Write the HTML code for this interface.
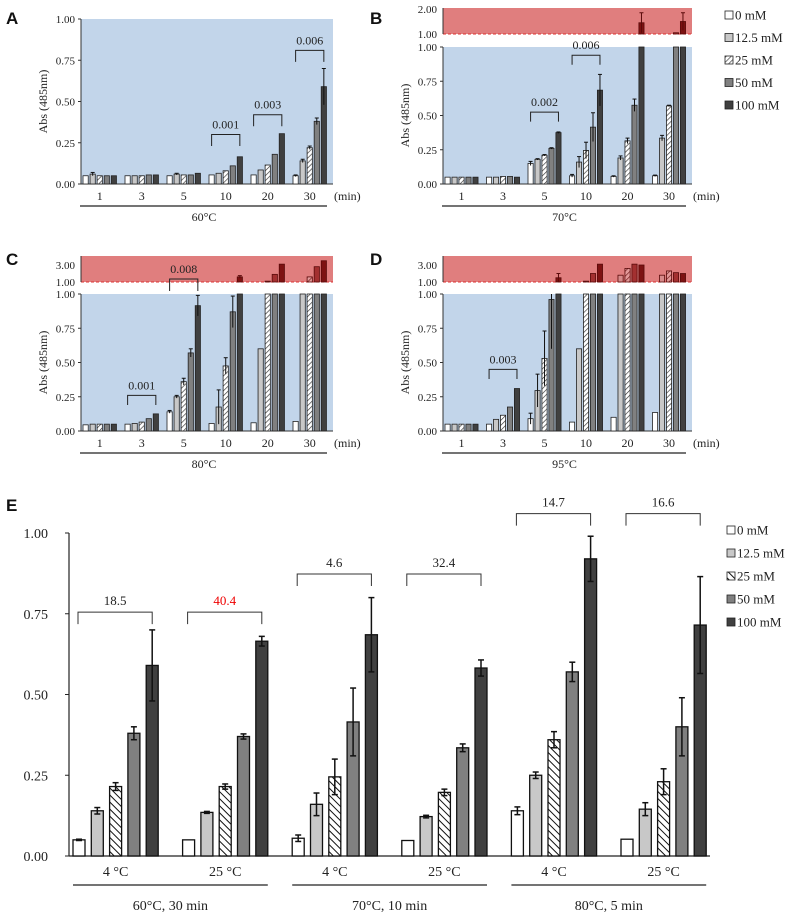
<!DOCTYPE html>
<html><head><meta charset="utf-8"><style>
html,body{margin:0;padding:0;background:#fff;}
svg{display:block;font-family:"Liberation Serif",serif;}
</style></head><body>
<svg id="fig" width="791" height="916" viewBox="0 0 791 916" xmlns="http://www.w3.org/2000/svg">
<defs>
<pattern id="hatchA" width="3.5" height="3.5" patternUnits="userSpaceOnUse" patternTransform="rotate(45)"><rect width="3.5" height="3.5" fill="#fff"/><line x1="0" y1="0" x2="0" y2="3.5" stroke="#333" stroke-width="1.3"/></pattern>
<pattern id="hatchR" width="3.5" height="3.5" patternUnits="userSpaceOnUse" patternTransform="rotate(45)"><rect width="3.5" height="3.5" fill="#e39a9a"/><line x1="0" y1="0" x2="0" y2="3.5" stroke="#6a0f0f" stroke-width="1.3"/></pattern>
<pattern id="hatchE" width="5" height="5" patternUnits="userSpaceOnUse" patternTransform="rotate(-45)"><rect width="5" height="5" fill="#fff"/><line x1="0" y1="0" x2="0" y2="5" stroke="#111" stroke-width="2"/></pattern>
</defs>
<g id="root"></g>
</svg>
<script>
const timeCats = ['1','3','5','10','20','30'];
const seriesLabels = ['0  mM','12.5  mM','25  mM','50  mM','100  mM'];
const aVals = [[.05,.06,.05,.05,.05],[.05,.05,.05,.055,.055],[.05,.06,.055,.055,.065],[.055,.065,.08,.11,.165],[.055,.085,.115,.18,.305],[.05,.14,.22,.38,.59]];
const aErrs = [[0,.01,0,0,0],[0,0,0,0,0],[0,.005,0,0,0],[0,0,0,0,0],[0,0,0,0,0],[.005,.01,.01,.02,.11]];
const bVals = [[.05,.05,.05,.05,.05],[.05,.05,.055,.055,.05],[.15,.18,.21,.26,.375],[.06,.16,.245,.415,.685],[.055,.19,.315,.575,1.45],[.06,.335,.57,1.05,1.5]];
const bErrs = [[0,0,0,0,0],[0,0,0,0,0],[.015,.005,.005,.005,.005],[.01,.04,.06,.105,.115],[.005,.015,.02,.045,.4],[.005,.02,.005,0,.35]];
const cVals = [[.045,.05,.05,.05,.05],[.05,.055,.065,.09,.125],[.14,.25,.36,.57,.915],[.055,.175,.475,.87,1.6],[.06,.6,1.1,1.9,3.1],[.07,1.0,1.6,2.8,3.5]];
const cErrs = [[0,0,0,0,0],[0,0,0,0,0],[.01,.01,.025,.03,.075],[0,.125,.06,.115,.15],[0,0,0,0,0],[0,0,0,0,0]];
const dVals = [[.05,.05,.05,.05,.05],[.05,.085,.115,.175,.31],[.09,.295,.53,.96,1.5],[.065,.6,1.1,2.0,3.1],[.1,1.8,2.6,3.1,3.0],[.135,1.8,2.3,2.1,2.0]];
const dErrs = [[0,0,0,0,0],[0,0,0,0,0],[.04,.12,.2,.36,.5],[0,0,0,0,0],[0,0,0,0,0],[0,0,0,0,0]];
const eCats = ['4 °C','25 °C','4 °C','25 °C','4 °C','25 °C'];
const eConds = ['60°C, 30 min','70°C, 10 min','80°C, 5 min'];
const eVals = [[.05,.14,.215,.38,.59],[.05,.135,.215,.37,.665],[.055,.16,.245,.415,.685],[.048,.122,.197,.335,.582],[.14,.25,.36,.57,.92],[.052,.145,.23,.40,.715]];
const eErrs = [[.002,.01,.012,.02,.11],[0,.003,.008,.008,.015],[.01,.035,.055,.105,.115],[0,.004,.01,.012,.025],[.012,.01,.025,.03,.07],[0,.02,.04,.09,.15]];
const eBrackets = [[0,.755,'18.5'],[1,.755,'40.4'],[2,.873,'4.6'],[3,.873,'32.4'],[4,1.06,'14.7'],[5,1.06,'16.6']];
const yTicks = [0,.25,.5,.75,1];

const NS='http://www.w3.org/2000/svg';
const root=document.getElementById('root');
function el(tag,attrs,parent,text){const e=document.createElementNS(NS,tag);for(const k in attrs)e.setAttribute(k,attrs[k]);if(text!==undefined)e.textContent=text;(parent||root).appendChild(e);return e;}
const fills=['#ffffff','#c8c8c8','url(#hatchA)','#808080','#404040'];
const fillsR=['#f0b8b8','#d78a8a','url(#hatchR)','#a33030','#7d1212'];
const fillsE=['#ffffff','#c8c8c8','url(#hatchE)','#808080','#404040'];

function panel(p){
  const g=el('g',{});
  
  
  const yB=v=>p.yBot-(v)*(p.yBot-p.yTop);
  const yR=v=>p.redBot-(v-1)*p.redScale;
  const bg=el('rect',{x:p.x0,y:p.yTop,width:p.x1-p.x0,height:p.yBot-p.yTop,fill:'#c2d5ea'},g);
  
  
  el('line',{x1:p.x0,y1:p.yTop,x2:p.x0,y2:p.yBot,stroke:'#333','stroke-width':1},g);
  el('line',{x1:p.x0,y1:p.yBot,x2:p.x1,y2:p.yBot,stroke:'#333','stroke-width':1},g);
  yTicks.forEach(t=>{
    const tl=el('text',{x:p.x0-6,y:yB(t)+4,'font-size':11,'text-anchor':'end',fill:'#222'},g,t.toFixed(2));
    
    
    el('line',{x1:p.x0-3,y1:yB(t),x2:p.x0,y2:yB(t),stroke:'#333'},g);
  });
  const yt=el('text',{x:0,y:0,'font-size':12,'text-anchor':'middle',fill:'#222',transform:`translate(${p.x0-34},${(p.yTop+p.yBot)/2}) rotate(-90)`},g,'Abs (485nm)');
  
  
  let ro=null;
  if(p.redTop!==undefined){
    ro=el('rect',{x:p.x0,y:p.redTop,width:p.x1-p.x0,height:p.redBot-p.redTop,fill:'#e07e7e'},g);
    
    
    el('line',{x1:p.x0,y1:p.redBot,x2:p.x1,y2:p.redBot,stroke:'#d33','stroke-width':1,'stroke-dasharray':'3,2'},g);
    el('line',{x1:p.x0,y1:p.redTop,x2:p.x0,y2:p.redBot,stroke:'#333'},g);
    p.redTicks.forEach(t=>{
      const tl=el('text',{x:p.x0-6,y:yR(t)+4,'font-size':11,'text-anchor':'end',fill:'#222'},g,t.toFixed(2));
      
      
    });
  }
  const gp=(p.x1-p.x0)/6, bp=gp*0.168, bw=bp*0.74;
  p.vals.forEach((grp,gi)=>{
    const gs=p.x0+gi*gp+2;
    grp.forEach((v,si)=>{
      const x=gs+si*bp;
      const vb=Math.min(v,1);
      const r=el('rect',{x:x,y:yB(vb),width:bw,height:p.yBot-yB(vb),fill:fills[si],stroke:'#222','stroke-width':0.8},g);
      
      
      const e=p.errs[gi][si];
      if(e>0&&v<=1){
        const top=Math.min(v+e,1);
        el('line',{x1:x+bw/2,y1:yB(top),x2:x+bw/2,y2:yB(Math.max(v-e,0)),stroke:'#111','stroke-width':1},g);
        if(v+e<=1) el('line',{x1:x+bw/2-2,y1:yB(top),x2:x+bw/2+2,y2:yB(top),stroke:'#111','stroke-width':1},g);
      }
      if(v>1&&p.redTop!==undefined){
        const vr=Math.min(v,p.redMax);
        const rr=el('rect',{x:x,y:yR(vr),width:bw,height:p.redBot-yR(vr),fill:fillsR[si],stroke:'#5a0a0a','stroke-width':0.8},g);
        
        
        if(e>0){
          const top=Math.min(v+e,p.redMax);
          el('line',{x1:x+bw/2,y1:yR(top),x2:x+bw/2,y2:yR(Math.max(v-e,1)),stroke:'#5a0a0a','stroke-width':1},g);
          el('line',{x1:x+bw/2-2,y1:yR(top),x2:x+bw/2+2,y2:yR(top),stroke:'#5a0a0a','stroke-width':1},g);
        }
      }
    });
    const cl=el('text',{x:gs+2*bp+bw/2,y:p.yBot+16,'font-size':12,'text-anchor':'middle',fill:'#222'},g,timeCats[gi]);
    
    
  });
  (p.brackets||[]).forEach(b=>{
    const gs=p.x0+b[0]*gp+2, xa=gs+bw/2, xb=gs+4*bp+bw/2;
    let yt2, yl;
    if(b[3]==='red'){yt2=yR(b[1]);yl=yt2+12;} else {yt2=yB(b[1]);yl=yB(b[1]-0.07);}
    const br=el('path',{d:`M${xa},${yl}V${yt2}H${xb}V${yl}`,fill:'none',stroke:'#222','stroke-width':1},g);
    
    
    const bl=el('text',{x:(xa+xb)/2,y:yt2-6,'font-size':12,'text-anchor':'middle',fill:'#222'},g,b[2]);
    
    
  });
  const mn=el('text',{x:p.x1+1,y:p.yBot+16,'font-size':12,fill:'#222'},g,'(min)');
  
  
  el('line',{x1:p.x0-1,y1:p.yBot+22,x2:p.x1-6,y2:p.yBot+22,stroke:'#222','stroke-width':1.2},g);
  const tp=el('text',{x:(p.x0+p.x1)/2-3,y:p.yBot+37,'font-size':12,'text-anchor':'middle',fill:'#222'},g,p.temp);
  
  
  const lt=el('text',{x:p.lx,y:p.ly,'font-size':17,'font-weight':'bold','font-family':'Liberation Sans, sans-serif',fill:'#111'},g,p.letter);
  
  
}

panel({name:'panel-a',letter:'A',lx:6,ly:24,x0:81,x1:333,yTop:19,yBot:184,vals:aVals,errs:aErrs,temp:'60°C',
  brackets:[[3,.30,'0.001'],[4,.42,'0.003'],[5,.81,'0.006']]});
panel({name:'panel-b',letter:'B',lx:370,ly:24,x0:443,x1:692,yTop:47,yBot:184,redTop:8,redBot:34,redScale:25,redMax:2.05,redTicks:[1,2],vals:bVals,errs:bErrs,temp:'70°C',
  brackets:[[2,.525,'0.002'],[3,.94,'0.006']]});
panel({name:'panel-c',letter:'C',lx:6,ly:265,x0:81,x1:333,yTop:294,yBot:431,redTop:256,redBot:282,redScale:8.5,redMax:4.0,redTicks:[1,3],vals:cVals,errs:cErrs,temp:'80°C',
  brackets:[[1,.26,'0.001'],[2,1.35,'0.008','red']]});
panel({name:'panel-d',letter:'D',lx:370,ly:265,x0:443,x1:692,yTop:294,yBot:431,redTop:256,redBot:282,redScale:8.5,redMax:4.0,redTicks:[1,3],vals:dVals,errs:dErrs,temp:'95°C',
  brackets:[[1,.45,'0.003']]});

function legend(x,y0,dy,fs,sq,fl){
  seriesLabels.forEach((s,i)=>{
    const y=y0+i*dy;
    const r=el('rect',{x:x,y:y-sq/2,width:sq,height:sq,fill:fl[i],stroke:'#222','stroke-width':0.8});
    
    
    const t=el('text',{x:x+sq+2,y:y+fs*0.35,'font-size':fs,fill:'#222','xml:space':'preserve'},root,s);
    
    
  });
}
legend(725,15,22.5,13,8,fills);
legend(727,530,23,13,8,fillsE);

(function(){
  const g=el('g',{});
  
  
  const x0=69,x1=710,yTop=533,yBot=856;
  const y=v=>yBot-v*(yBot-yTop);
  const gp=109.6,bp=18.3,bw=12,gstart=73;
  el('line',{x1:x0,y1:yTop,x2:x0,y2:yBot,stroke:'#222','stroke-width':1.2},g);
  el('line',{x1:x0,y1:yBot,x2:x1,y2:yBot,stroke:'#222','stroke-width':1.2},g);
  yTicks.forEach(t=>{
    el('line',{x1:x0-4,y1:y(t),x2:x0,y2:y(t),stroke:'#222'},g);
    const tl=el('text',{x:x0-21,y:y(t)+5,'font-size':14,'text-anchor':'end',fill:'#222'},g,t.toFixed(2));
    
    
  });
  eVals.forEach((grp,gi)=>{
    const gs=gstart+gi*gp;
    grp.forEach((v,si)=>{
      const x=gs+si*bp;
      const r=el('rect',{x:x,y:y(v),width:bw,height:yBot-y(v),fill:fillsE[si],stroke:'#111','stroke-width':1.3},g);
      
      
      const e=eErrs[gi][si];
      if(e>0){
        el('line',{x1:x+bw/2,y1:y(v+e),x2:x+bw/2,y2:y(v-e),stroke:'#111','stroke-width':1.5},g);
        el('line',{x1:x+bw/2-3,y1:y(v+e),x2:x+bw/2+3,y2:y(v+e),stroke:'#111','stroke-width':1.5},g);
        el('line',{x1:x+bw/2-3,y1:y(v-e),x2:x+bw/2+3,y2:y(v-e),stroke:'#111','stroke-width':1.5},g);
      }
    });
    const cl=el('text',{x:gs+2*bp+bw/2,y:yBot+20,'font-size':14,'text-anchor':'middle',fill:'#222'},g,eCats[gi]);
    
    
  });
  eBrackets.forEach(b=>{
    const gs=gstart+b[0]*gp, xa=gs+bw/2-1, xb=gs+4*bp+bw/2;
    const yt=y(b[1]), yl=y(b[1]-0.037);
    const br=el('path',{d:`M${xa},${yl}V${yt}H${xb}V${yl}`,fill:'none',stroke:'#333','stroke-width':1},g);
    
    
    const bl=el('text',{x:(xa+xb)/2,y:yt-7,'font-size':13,'text-anchor':'middle',fill:b[2]==='40.4'?'#e00':'#222'},g,b[2]);
    
    
  });
  eConds.forEach((c,ci)=>{
    const xa=gstart+ci*2*gp, xb=xa+gp+4*bp+bw;
    el('line',{x1:xa,y1:885,x2:xb,y2:885,stroke:'#222','stroke-width':1.3},g);
    const t=el('text',{x:(xa+xb)/2,y:910,'font-size':14,'text-anchor':'middle',fill:'#222'},g,c);
    
    
  });
  const lt=el('text',{x:6,y:511,'font-size':17,'font-weight':'bold','font-family':'Liberation Sans, sans-serif',fill:'#111'},g,'E');
  
  
})();
</script>
</body></html>
